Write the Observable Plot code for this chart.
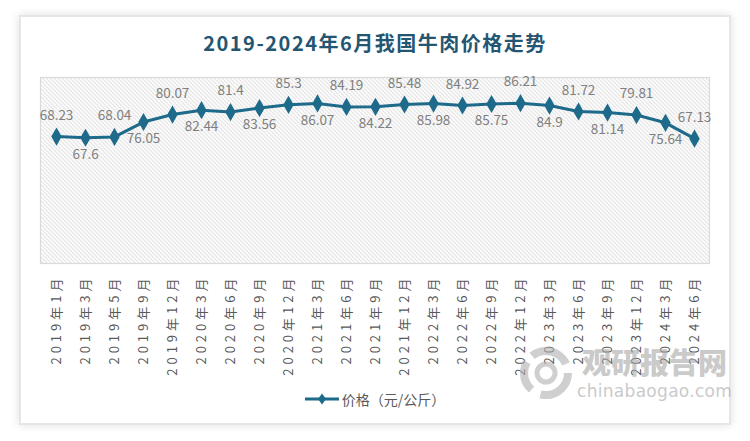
<!DOCTYPE html>
<html>
<head>
<meta charset="utf-8">
<script src="https://cdn.jsdelivr.net/npm/d3@7"></script>
<script src="https://cdn.jsdelivr.net/npm/@observablehq/plot@0.6"></script>
<style>
  html, body { margin: 0; padding: 0; background: #fff; }
  body { width: 750px; height: 441px; position: relative; overflow: hidden; font-family: "Noto Sans CJK SC", "Noto Sans", sans-serif; }
  #card { position: absolute; left: 19px; top: 15px; width: 708px; height: 406px; border: 2px solid #e6e6e6; box-shadow: 0 0 9px rgba(0,0,0,0.13); background: #fff; }
  #title { position: absolute; left: 0; top: 29px; width: 750px; text-align: center; font-size: 20px; line-height: 28px; font-weight: 700; letter-spacing: 1.5px; color: #245672; }
  #chart { position: absolute; left: 0; top: 0; }
  #legend { position: absolute; left: 0; top: 389px; width: 750px; display: flex; justify-content: center; align-items: center; font-size: 14px; color: #595959; line-height: 20px; }
  #legend svg { margin-right: 3px; }
  #wm { position: absolute; left: 518px; top: 344px; opacity: 0.6; pointer-events: none; }
  #wm .cn { position: absolute; left: 64px; top: 0px; font-size: 29px; font-weight: 900; color: #a8a8a8; white-space: nowrap; letter-spacing: 0px; line-height: 34px; }
  #wm .en { position: absolute; left: 59px; top: 36px; font-size: 17px; color: #a8a8a8; white-space: nowrap; font-family: "DejaVu Sans", sans-serif; line-height: 22px; letter-spacing: 0.3px; }
</style>
</head>
<body>
<div id="card"></div>
<div id="title">2019-2024年6月我国牛肉价格走势</div>
<div id="chart"></div>
<div id="legend"><svg width="34" height="12"><line x1="0" y1="6" x2="34" y2="6" stroke="#1d6a8a" stroke-width="3"/><path d="M17,0.5 L21,6 L17,11.5 L13,6 Z" fill="#1d6a8a"/></svg><span>价格（元/公斤）</span></div>
<div id="wm">
  <svg width="60" height="58" style="position:absolute;left:0;top:0">
    <circle cx="28" cy="29" r="22" fill="none" stroke="#b0b0b0" stroke-width="8" stroke-dasharray="40 10 30 8"/>
    <circle cx="28" cy="29" r="9" fill="none" stroke="#b0b0b0" stroke-width="5"/>
  </svg>
  <div class="cn">观研报告网</div>
  <div class="en">chinabaogao.com</div>
</div>
<script>
const months = ["2019年1月","2019年3月","2019年5月","2019年9月","2019年12月","2020年3月","2020年6月","2020年9月","2020年12月","2021年3月","2021年6月","2021年9月","2021年12月","2022年3月","2022年6月","2022年9月","2022年12月","2023年3月","2023年6月","2023年9月","2023年12月","2024年3月","2024年6月"];
const prices = [68.23, 67.6, 68.04, 76.05, 80.07, 82.44, 81.4, 83.56, 85.3, 86.07, 84.19, 84.22, 85.48, 85.98, 84.92, 85.75, 86.21, 84.9, 81.72, 81.14, 79.81, 75.64, 67.13];

const data = months.map((m, i) => ({month: m, price: prices[i], i}));
const color = "#1d6a8a";

const chart = Plot.plot({
  width: 750,
  height: 441,
  marginLeft: 40,
  marginRight: 41,
  marginTop: 77,
  marginBottom: 178,
  style: {fontFamily: "'Noto Sans CJK SC', 'Noto Sans', sans-serif", background: "transparent", overflow: "visible"},
  x: {type: "point", domain: months, padding: 0.45, label: null},
  y: {domain: [0, 100], axis: null},
  marks: [
    Plot.frame({fill: "url(#hatch)", stroke: "#d9d9d9", strokeWidth: 1.2}),
    Plot.axisX({tickSize: 0, tickPadding: 11, tickRotate: -90, fontSize: 13, fill: "#595959", label: null}),
    Plot.line(data, {x: "month", y: "price", stroke: color, strokeWidth: 3}),
    Plot.dot(data, {x: "month", y: "price", symbol: "diamond", r: 5.5, fill: color, stroke: "none"}),
    Plot.text(data.filter(d => d.i % 2 === 0), {x: "month", y: "price", text: d => String(d.price), dy: -21, fontSize: 13.5, fill: "#7f7f7f"}),
    Plot.text(data.filter(d => d.i % 2 === 1), {x: "month", y: "price", text: d => String(d.price), dy: 17, fontSize: 13.5, fill: "#7f7f7f"})
  ]
});

const svg = d3.select(chart);
const defs = svg.insert("defs", ":first-child");
const pat = defs.append("pattern").attr("id", "hatch").attr("patternUnits", "userSpaceOnUse").attr("width", 4).attr("height", 4);
pat.append("rect").attr("width", 4).attr("height", 4).attr("fill", "#ffffff");
pat.append("path").attr("d", "M-1,-1 L5,5 M-1,3 L1,5 M3,-1 L5,1").attr("stroke", "#c9c9c9").attr("stroke-width", 0.9);
svg.selectAll('g[aria-label="x-axis tick label"] text').style("letter-spacing", "4px").attr("fill", "#595959");

document.getElementById("chart").appendChild(chart);
</script>
</body>
</html>
